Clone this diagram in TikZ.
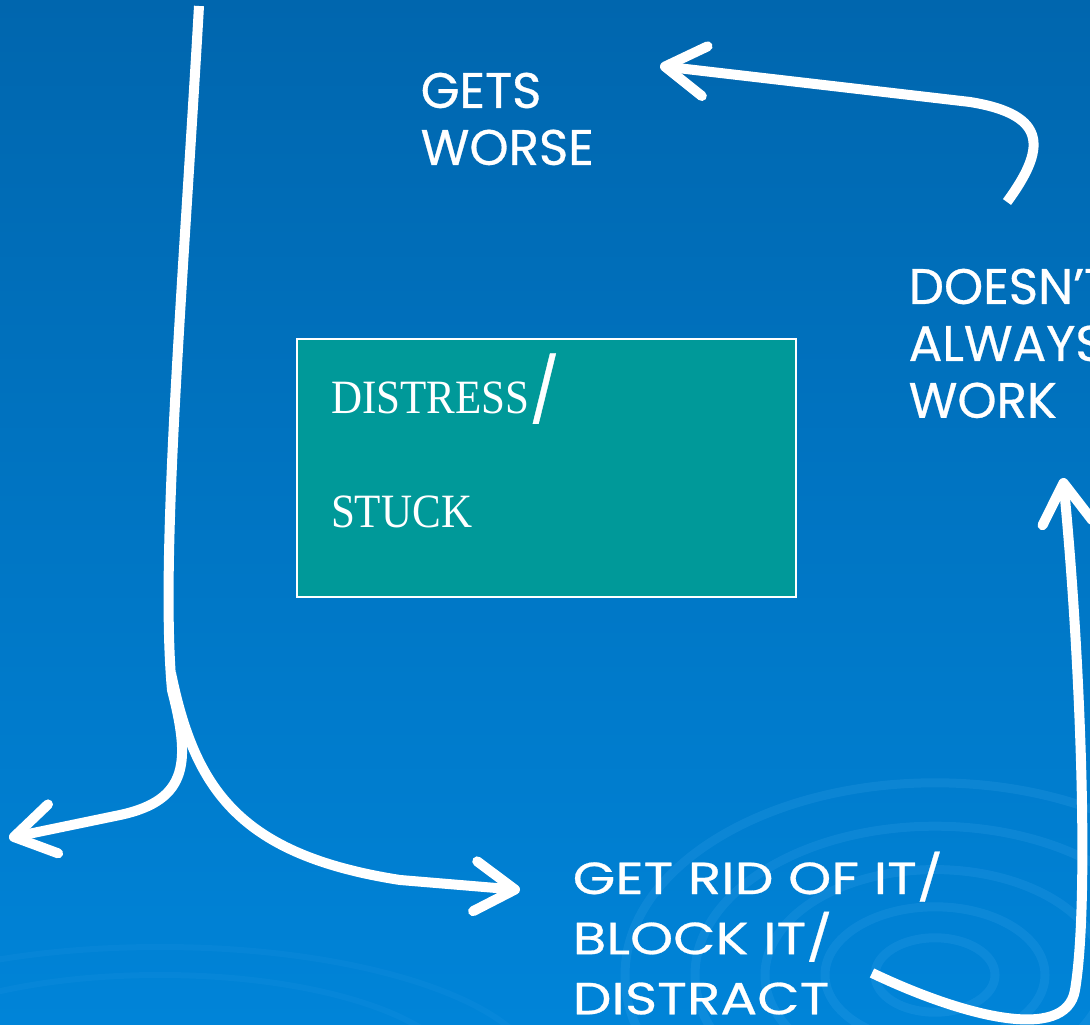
\documentclass[tikz,border=0pt]{standalone}
\usepackage{fontspec}
\setmainfont{Liberation Serif}[FakeStretch=0.9]
\newfontfamily\handfont{Poppins}[FakeBold=0.6]
\newfontfamily\handwide{Poppins}[FakeBold=0.6, FakeStretch=1.22]
\usepackage{tikz}
\usetikzlibrary{arrows.meta}
\definecolor{slidetop}{HTML}{0066AE}
\definecolor{slidemid}{HTML}{006AB4}
\definecolor{slidebottom}{HTML}{0084D8}
\definecolor{stuckteal}{HTML}{009999}
\definecolor{swirl}{HTML}{4DB0F2}
\newcommand\handbig{\handfont\fontsize{14.2pt}{16.2pt}\selectfont}
\newcommand\handsmall{\handwide\fontsize{12.8pt}{17.1pt}\selectfont}
\newcommand\boxfont{\fontsize{13.6pt}{32.7pt}\selectfont}
\newcommand\bigslash{{\handfont\fontsize{18pt}{18pt}\selectfont/}}
\tikzstyle{stuckbox} = [rectangle, draw=white, line width=0.6pt, fill=stuckteal,
    anchor=north west, inner xsep=0.34cm, inner ysep=0pt, text width=4.31cm,
    align=left, text height=0.74cm, text depth=1.84cm, text=white, font=\boxfont]
\tikzstyle{handtext} = [anchor=north west, inner sep=0pt, align=left, text=white]
\tikzstyle{flow} = [draw=white, line width=1mm, -{Straight Barb[length=4mm, width=5mm, round]}]

\begin{document}
\begin{tikzpicture}[x=0.1mm, y=-0.1mm]
\useasboundingbox (0,0) rectangle (1090,1025);
\clip (0,0) rectangle (1090,1025);
\shade[top color=slidetop, middle color=slidemid, bottom color=slidebottom] (0,0) rectangle (1090,1025);
% faint swirls low on the slide
\foreach \r in {6,11,17,24,31}
  \draw[swirl, opacity=0.16, line width=0.9mm] (935,975) ellipse[x radius=\r mm, y radius={0.62*\r mm}];
\foreach \r in {30,38}
  \draw[swirl, opacity=0.08, line width=0.6mm] (160,1080) ellipse[x radius=\r mm, y radius={0.35*\r mm}];

\node[stuckbox] (stuck) at (296,338) {DISTRESS\bigslash\\STUCK};
\node[handtext, font=\handbig] (worse) at (420,72) {GETS\\WORSE};
\node[handtext, font=\handbig] (nowork) at (908,268) {DOESN’T\\ALWAYS\\WORK};
\node[handtext, font=\handsmall] (getrid) at (572,851) {GET RID OF IT/\\BLOCK IT/\\DISTRACT};

\coordinate (src) at (199,6);
\coordinate (split) at (171,673);
\coordinate (away) at (9,838);

\draw[flow] (src) .. controls (182,300) and (160,560) .. (172,690) .. controls (190,760) and (190,800) .. (120,815) -- (away);
\draw[flow] (split) .. controls (195,790) and (240,855) .. (400,880) -- ([shift={(-52,39)}]getrid.north west);
\draw[flow] ([shift={(300,122)}]getrid.north west) .. controls (960,1015) and (1066,1044) .. (1075,990) .. controls (1090,900) and (1080,650) .. ([shift={(155,210)}]nowork.north west);
\draw[flow] ([shift={(99,-66)}]nowork.north west) .. controls (1045,150) and (1050,115) .. (970,102) -- ([shift={(240,-6)}]worse.north west);
\end{tikzpicture}
\end{document}
